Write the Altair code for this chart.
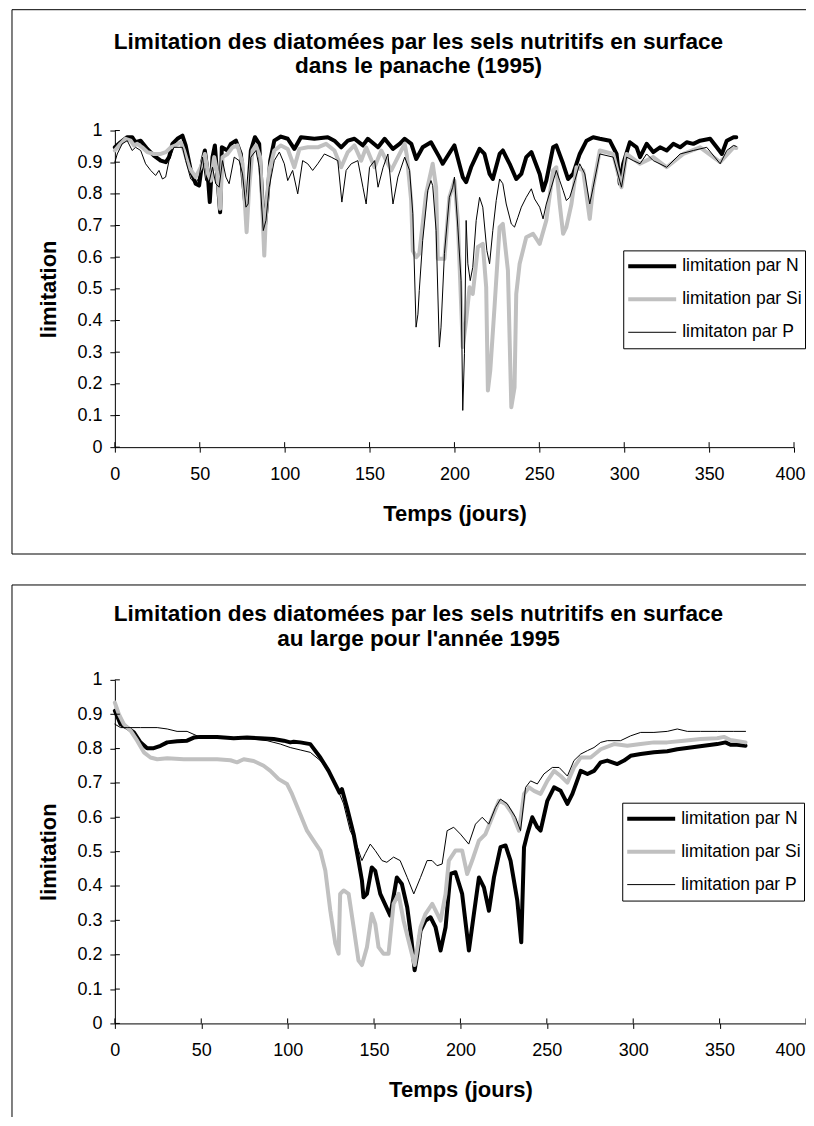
import altair as alt
import pandas as pd

FONT = "Liberation Sans"

# ---------------- Top chart: "dans le panache (1995)" ----------------
TOP_N_J = [0, 3.3, 7.3, 10.2, 12.2, 15.2, 19.1, 23, 27, 30, 31.9, 33.9, 36.8, 39.8, 41.7, 44.7, 47.6, 49.6, 51.6, 53,
           54.5, 55.9, 57.5, 58.9, 60.4, 62, 63, 66.3, 68.3, 71.3, 74.2, 76.8, 78.1, 80.1, 82.5, 85, 87, 88, 89.4, 91.5,
           93.9, 97.8, 101.8, 105.7, 109.6, 117.5, 125.4, 129.3, 133.3, 137.2, 141.1, 146.1, 149, 155, 158.9, 163.8,
           167.7, 170.7, 174.6, 177.5, 181.3, 186.2, 191.1, 193.1, 198, 200, 204.9, 206.9, 209.8, 214.8, 217.7, 220.7,
           222.6, 226.6, 228.5, 232.5, 236.4, 239.4, 242.3, 245.3, 250.2, 252.2, 254.1, 258.1, 260, 264, 266.9, 269.9,
           273.8, 277.8, 281.7, 285.6, 291.5, 295.5, 297.4, 299.4, 303.3, 307.3, 309.3, 313.2, 317.1, 321.1, 325,
           328.9, 332.9, 336.8, 340.7, 344.7, 350.6, 354.5, 357.5, 360.4, 364.4, 366]
TOP_N = [0.947, 0.963, 0.979, 0.979, 0.963, 0.968, 0.942, 0.921, 0.905, 0.900, 0.916, 0.958, 0.974, 0.984, 0.953,
         0.874, 0.832, 0.826, 0.905, 0.937, 0.874, 0.774, 0.916, 0.953, 0.853, 0.742, 0.947, 0.937, 0.958, 0.968,
         0.926, 0.768, 0.779, 0.937, 0.979, 0.958, 0.768, 0.674, 0.758, 0.905, 0.968, 0.981, 0.974, 0.942, 0.979,
         0.974, 0.979, 0.968, 0.947, 0.968, 0.974, 0.953, 0.974, 0.947, 0.974, 0.942, 0.958, 0.974, 0.958, 0.910,
         0.947, 0.963, 0.916, 0.895, 0.937, 0.953, 0.853, 0.837, 0.884, 0.942, 0.926, 0.863, 0.847, 0.926, 0.937,
         0.895, 0.847, 0.863, 0.916, 0.932, 0.863, 0.811, 0.842, 0.947, 0.953, 0.895, 0.847, 0.863, 0.926, 0.968,
         0.979, 0.974, 0.968, 0.926, 0.832, 0.895, 0.963, 0.947, 0.916, 0.958, 0.932, 0.947, 0.937, 0.958, 0.947,
         0.963, 0.958, 0.968, 0.974, 0.947, 0.926, 0.968, 0.979, 0.979]

TOP_SI_J = [0, 3.3, 6.3, 9.3, 11.2, 13.2, 16.1, 19.1, 23, 27, 30, 32.9, 35.8, 38.8, 40.7, 43.7, 47.6, 50.6, 53, 54.9,
            56.5, 58.5, 60.4, 62, 63.4, 66.3, 69.3, 72.2, 75.2, 77.6, 79.1, 81.1, 83.1, 85.6, 88, 89, 90.9, 93.9, 97.8,
            101.8, 105.7, 108.7, 113.6, 119.5, 124.4, 129.3, 133.3, 137.2, 141.1, 145.1, 148, 152.9, 156.9, 162.8,
            166.7, 170.7, 172, 174.5, 175.5, 177.5, 179.3, 183.3, 187.2, 189.2, 190.2, 194.1, 197, 200, 202, 204.9,
            206.9, 208.9, 210.8, 213.8, 216.7, 218.7, 219.7, 221.1, 223.6, 226.6, 228.5, 231.5, 233.5, 235.4, 236.4,
            238.4, 242.3, 246.3, 250.2, 254.1, 258.1, 260, 262, 264, 265.9, 268.9, 271.9, 275.8, 279.7, 281.7, 285.6,
            293.5, 298.4, 301.4, 309.3, 317.1, 325, 334.8, 344.7, 356.5, 364.4, 366]
TOP_SI = [0.937, 0.958, 0.974, 0.968, 0.953, 0.958, 0.947, 0.932, 0.926, 0.926, 0.932, 0.947, 0.953, 0.963, 0.937,
          0.884, 0.853, 0.884, 0.926, 0.863, 0.842, 0.916, 0.863, 0.753, 0.916, 0.926, 0.947, 0.953, 0.895, 0.679,
          0.821, 0.937, 0.953, 0.916, 0.605, 0.737, 0.874, 0.937, 0.953, 0.942, 0.884, 0.942, 0.947, 0.947, 0.958,
          0.937, 0.884, 0.932, 0.953, 0.905, 0.947, 0.884, 0.937, 0.874, 0.916, 0.958, 0.920, 0.780, 0.620, 0.600,
          0.611, 0.800, 0.895, 0.821, 0.595, 0.595, 0.789, 0.842, 0.716, 0.316, 0.400, 0.505, 0.484, 0.632, 0.642,
          0.505, 0.179, 0.242, 0.442, 0.695, 0.705, 0.558, 0.126, 0.189, 0.484, 0.579, 0.663, 0.674, 0.642, 0.716,
          0.874, 0.884, 0.768, 0.674, 0.695, 0.768, 0.884, 0.874, 0.721, 0.821, 0.937, 0.926, 0.821, 0.926, 0.895,
          0.916, 0.884, 0.926, 0.947, 0.900, 0.947, 0.945]

TOP_P_J = [0, 1.4, 4.3, 7.3, 10.2, 12.2, 15.2, 18.1, 21.1, 24, 26, 28, 29.9, 31.9, 34.8, 37.8, 39.8, 41.7, 44.7, 47.6,
           49.6, 51.6, 53.5, 55.5, 57.5, 59.4, 61.4, 63.4, 65.4, 67.3, 70.3, 73.2, 75.2, 77.2, 78.5, 80.1, 83.1, 85,
           87.4, 89, 90.9, 93.9, 96.9, 99.8, 101.8, 104.7, 107.7, 110.6, 113.6, 116.5, 119.5, 123.4, 127.4, 131.3,
           133.7, 136.2, 139.2, 143.1, 146.1, 148, 150, 153, 155, 158, 160.8, 163.8, 166.7, 170.7, 173.6, 175.5,
           177.4, 178.5, 179.3, 181.3, 184.3, 186.2, 187.2, 189.2, 191.1, 192.1, 194.1, 197, 199, 200, 202, 203.9,
           204.9, 205.9, 206.9, 207.9, 209.3, 210.8, 212.8, 214.8, 216.7, 219.1, 220.7, 222.6, 224.6, 226.6, 228.5,
           230.5, 233.5, 235.4, 237.4, 239.4, 242.3, 245.3, 247.2, 250.2, 252.2, 254.1, 257.1, 260, 262, 264, 265.9,
           267.9, 270.9, 273.8, 276.8, 279.7, 281.7, 285.6, 293.5, 298.4, 301.4, 305.3, 309.3, 313.2, 317.1, 325,
           332.9, 340.7, 348.6, 356.5, 360.4, 364.4, 366]
TOP_P = [0.900, 0.926, 0.958, 0.968, 0.937, 0.947, 0.937, 0.895, 0.874, 0.858, 0.874, 0.847, 0.853, 0.905, 0.947,
         0.947, 0.947, 0.905, 0.847, 0.832, 0.853, 0.916, 0.842, 0.837, 0.884, 0.832, 0.821, 0.905, 0.853, 0.832,
         0.916, 0.905, 0.863, 0.758, 0.768, 0.916, 0.937, 0.884, 0.684, 0.716, 0.821, 0.905, 0.932, 0.895, 0.842,
         0.874, 0.800, 0.905, 0.895, 0.874, 0.895, 0.926, 0.916, 0.905, 0.774, 0.874, 0.895, 0.905, 0.821, 0.768,
         0.884, 0.905, 0.821, 0.884, 0.926, 0.768, 0.853, 0.916, 0.874, 0.737, 0.379, 0.420, 0.495, 0.653, 0.811,
         0.842, 0.826, 0.684, 0.316, 0.379, 0.611, 0.789, 0.821, 0.853, 0.695, 0.526, 0.116, 0.295, 0.716, 0.579,
         0.526, 0.568, 0.716, 0.789, 0.758, 0.621, 0.579, 0.684, 0.779, 0.847, 0.832, 0.768, 0.705, 0.695, 0.726,
         0.758, 0.789, 0.816, 0.784, 0.758, 0.721, 0.768, 0.821, 0.874, 0.842, 0.811, 0.779, 0.789, 0.842, 0.895,
         0.863, 0.768, 0.821, 0.926, 0.916, 0.821, 0.916, 0.905, 0.895, 0.926, 0.905, 0.884, 0.926, 0.937, 0.947,
         0.895, 0.937, 0.953, 0.950]

# ---------------- Bottom chart: "au large pour l'année 1995" ----------------
BOT_N_J = [0, 3.3, 7.1, 11, 14.8, 18.7, 22.5, 26.4, 30.3, 36, 41.8, 45.7, 49.5, 59.2, 68.8, 76.5, 84.2, 91.9, 97.7,
           101.5, 103.5, 107.3, 113.1, 118.9, 123.7, 128.5, 130, 131.4, 134.3, 138.2, 141, 143, 143.9, 145.9, 148.7,
           150.7, 153.6, 159.4, 163.2, 166.1, 169.2, 171.5, 173.5, 175, 176.9, 179.8, 182.7, 185.6, 188.5, 191.4,
           194.2, 197.1, 201, 204.9, 207.8, 210.7, 213.6, 216.5, 219.4, 223.2, 226.1, 229, 232.9, 235.2, 236.8, 238.7,
           241.6, 244.5, 246.4, 250.3, 254.2, 258, 261.9, 264.8, 269.6, 273.5, 277.3, 281.2, 285, 290.8, 294.7, 298.5,
           304.3, 312, 319.7, 325.5, 333.2, 340.9, 348.6, 353.4, 356.3, 360.1, 365]
BOT_N = [0.910, 0.871, 0.861, 0.847, 0.818, 0.801, 0.801, 0.808, 0.818, 0.821, 0.823, 0.832, 0.834, 0.834, 0.830,
         0.832, 0.830, 0.828, 0.823, 0.818, 0.820, 0.818, 0.813, 0.774, 0.735, 0.687, 0.672, 0.682, 0.629, 0.551,
         0.474, 0.416, 0.367, 0.377, 0.454, 0.444, 0.377, 0.314, 0.425, 0.406, 0.338, 0.250, 0.155, 0.200, 0.270,
         0.299, 0.309, 0.280, 0.212, 0.280, 0.435, 0.440, 0.377, 0.212, 0.319, 0.425, 0.396, 0.328, 0.425, 0.513,
         0.518, 0.474, 0.358, 0.236, 0.513, 0.551, 0.600, 0.571, 0.561, 0.648, 0.687, 0.677, 0.639, 0.668, 0.735,
         0.726, 0.735, 0.760, 0.765, 0.755, 0.765, 0.779, 0.784, 0.789, 0.792, 0.798, 0.803, 0.808, 0.813, 0.818,
         0.811, 0.811, 0.808]

BOT_SI_J = [0, 2.3, 5.2, 9.1, 12.9, 16.8, 20.6, 24.5, 30.3, 39.9, 49.5, 59.2, 66.9, 70.7, 74.6, 80.3, 86.1, 90, 94.8,
            99.6, 102.5, 107.3, 111.2, 115, 118.9, 121.8, 124.7, 127.6, 129.5, 130.4, 132.4, 135.3, 138.2, 141, 143,
            145.9, 148.7, 150.7, 152.6, 155.5, 158.4, 161.3, 164.2, 167.1, 171, 173.5, 176.9, 179.8, 183.7, 186.6,
            188.5, 191.4, 193.3, 197.1, 201, 203.9, 206.8, 210.7, 214.5, 218.4, 222.3, 226.1, 230, 233.9, 236.8,
            239.7, 242.6, 246.4, 250.3, 254.2, 258, 261.9, 265.7, 269.6, 275.4, 281.2, 288.9, 296.6, 304.3, 312,
            319.7, 329.3, 339, 348.6, 352.5, 356.3, 365]
BOT_SI = [0.934, 0.900, 0.871, 0.852, 0.823, 0.789, 0.774, 0.769, 0.772, 0.769, 0.769, 0.769, 0.766, 0.760, 0.769,
          0.764, 0.750, 0.735, 0.711, 0.697, 0.668, 0.609, 0.561, 0.532, 0.503, 0.445, 0.328, 0.232, 0.203, 0.377,
          0.387, 0.377, 0.280, 0.183, 0.170, 0.222, 0.319, 0.290, 0.222, 0.203, 0.203, 0.348, 0.377, 0.299, 0.220,
          0.170, 0.280, 0.319, 0.348, 0.319, 0.299, 0.377, 0.474, 0.503, 0.503, 0.435, 0.474, 0.532, 0.551, 0.600,
          0.648, 0.639, 0.610, 0.561, 0.668, 0.687, 0.677, 0.668, 0.706, 0.735, 0.720, 0.701, 0.745, 0.774, 0.774,
          0.798, 0.813, 0.808, 0.813, 0.818, 0.818, 0.823, 0.828, 0.830, 0.834, 0.825, 0.818]

BOT_P_J = [0, 3.3, 7.1, 14.8, 24.5, 30.3, 36, 41.8, 47.6, 59.2, 68.8, 78.4, 88.1, 95.8, 101.5, 107.3, 113.1, 118.9,
           123.7, 128.5, 132.4, 136.2, 139.1, 143, 144.9, 147.8, 150.7, 154.6, 157.4, 161.3, 165.1, 169.2, 173,
           176.9, 180.7, 183.6, 186.5, 189.4, 192.3, 196.1, 200, 204.8, 208.7, 212.6, 216.4, 220.3, 223.2, 227.1,
           231.9, 234.8, 237.7, 240.6, 244.5, 248.3, 253.2, 257.1, 261.9, 265.7, 269.6, 273.5, 277.3, 281.2, 285,
           292.7, 298.5, 304.3, 312, 319.7, 325.5, 331.3, 339, 348.6, 358.2, 365]
BOT_P = [0.871, 0.861, 0.861, 0.861, 0.861, 0.857, 0.850, 0.850, 0.837, 0.830, 0.830, 0.828, 0.823, 0.813, 0.803,
         0.796, 0.789, 0.765, 0.735, 0.687, 0.639, 0.561, 0.532, 0.474, 0.494, 0.522, 0.503, 0.474, 0.469, 0.484,
         0.474, 0.425, 0.377, 0.425, 0.474, 0.474, 0.459, 0.464, 0.561, 0.571, 0.551, 0.522, 0.580, 0.600, 0.580,
         0.629, 0.653, 0.639, 0.600, 0.561, 0.687, 0.706, 0.697, 0.726, 0.745, 0.745, 0.720, 0.765, 0.784, 0.794,
         0.803, 0.818, 0.823, 0.823, 0.837, 0.847, 0.847, 0.850, 0.857, 0.850, 0.850, 0.850, 0.850, 0.850]

SERIES_TOP = ["limitation par N", "limitation par Si", "limitaton par P"]
SERIES_BOT = ["limitation par N", "limitation par Si", "limitation par P"]
TITLE_TOP = ["Limitation des diatomées par les sels nutritifs en surface", "dans le panache (1995)"]
TITLE_BOT = ["Limitation des diatomées par les sels nutritifs en surface", "au large pour l'année 1995"]
X_TITLE = "Temps (jours)"
Y_TITLE = "limitation"
X_TICKS = [0, 50, 100, 150, 200, 250, 300, 350, 400]
Y_TICKS = [0, 0.1, 0.2, 0.3, 0.4, 0.5, 0.6, 0.7, 0.8, 0.9, 1]
COLORS = ["#000000", "#c0c0c0", "#000000"]
WIDTHS = [4, 4, 1]


def long_table(names, pairs):
    rows = []
    for name, (jours, vals) in zip(names, pairs):
        assert len(jours) == len(vals), (name, len(jours), len(vals))
        for j, v in zip(jours, vals):
            rows.append({"jour": j, "limitation": v, "serie": name})
    return pd.DataFrame(rows)


def panel(df, names, title_lines, width, height, title_offset, title_dx, leg_x, leg_y, box, last_shift):
    xs = alt.Scale(domain=[0, 400], nice=False, zero=False)
    ys = alt.Scale(domain=[0, 1], nice=False, zero=False)
    leg = alt.Legend(orient="none", legendX=leg_x, legendY=leg_y, title=None, symbolType="stroke",
                     symbolSize=2304, clipHeight=26, rowPadding=7, padding=3, labelOffset=4,
                     strokeColor="black", fillColor="white", labelFontSize=17.5, labelFont=FONT,
                     labelColor="black", cornerRadius=0)
    color = alt.Color("serie:N", scale=alt.Scale(domain=names, range=COLORS), legend=leg)
    sw = alt.StrokeWidth("serie:N", scale=alt.Scale(type="ordinal", domain=names, range=WIDTHS), legend=leg)
    xaxis = alt.Axis(values=X_TICKS, title=X_TITLE, labelFlush=False, tickSize=5, labelPadding=13,
                     titlePadding=20, grid=False,
                     labelOffset=alt.condition("datum.value == 400", alt.value(last_shift), alt.value(0)))
    yaxis = alt.Axis(values=Y_TICKS, format="~g", title=Y_TITLE, tickSize=5, labelPadding=8,
                     titlePadding=16, grid=False)
    layers = []
    for name in names:
        layers.append(
            alt.Chart(df).transform_filter(alt.datum.serie == name)
            .mark_line(strokeJoin="round", strokeCap="round")
            .encode(x=alt.X("jour:Q", scale=xs, axis=xaxis),
                    y=alt.Y("limitation:Q", scale=ys, axis=yaxis),
                    color=color, strokeWidth=sw)
        )
    # inner half of the crossing ticks
    yt = alt.Chart(pd.DataFrame({"limitation": Y_TICKS})).mark_rule(color="black", strokeWidth=1).encode(
        y=alt.Y("limitation:Q", scale=ys, axis=yaxis), x=alt.value(0), x2=alt.value(5))
    xt = alt.Chart(pd.DataFrame({"jour": X_TICKS})).mark_rule(color="black", strokeWidth=1).encode(
        x=alt.X("jour:Q", scale=xs, axis=xaxis), y=alt.value(height - 5), y2=alt.value(height))
    frame = alt.Chart(alt.Data(values=[{"k": 1}])).mark_rect(
        filled=False, stroke="black", strokeWidth=1).encode(
        x=alt.value(box[0]), x2=alt.value(box[1]), y=alt.value(box[2]), y2=alt.value(box[3]))
    return alt.layer(*layers, yt, xt, frame).properties(
        width=width, height=height,
        title=alt.Title(text=title_lines, offset=title_offset, anchor="middle", dx=title_dx))


top_df = long_table(SERIES_TOP, [(TOP_N_J, TOP_N), (TOP_SI_J, TOP_SI), (TOP_P_J, TOP_P)])
bot_df = long_table(SERIES_BOT, [(BOT_N_J, BOT_N), (BOT_SI_J, BOT_SI), (BOT_P_J, BOT_P)])

top = panel(top_df, SERIES_TOP, TITLE_TOP, 680, 317, -69, -36, 509, 120, (-103, 760, -121, 424), -4)
bot = panel(bot_df, SERIES_BOT, TITLE_BOT, 692, 344, -66, -42, 508, 123, (-103, 760, -95, 480), -16)

# the frame runs past the window on the right and at the bottom: negative padding crops it to 798 x 1110
chart = alt.vconcat(top, bot, spacing=29).resolve_scale(
    x="independent", y="independent", color="independent", strokeWidth="independent"
).properties(
    padding={"left": 3, "top": 0, "right": -69, "bottom": -44},
    background="white"
).configure_view(strokeWidth=0).configure_axis(
    labelFont=FONT, titleFont=FONT, labelFontSize=18, titleFontSize=22, titleFontWeight="bold",
    labelColor="black", titleColor="black", domainColor="black", tickColor="black",
    domainWidth=1, tickWidth=1
).configure_title(
    font=FONT, fontSize=22.6, fontWeight="bold", color="black", lineHeight=25
)

chart.save("out.html", embed_options={"renderer": "svg", "actions": False})
